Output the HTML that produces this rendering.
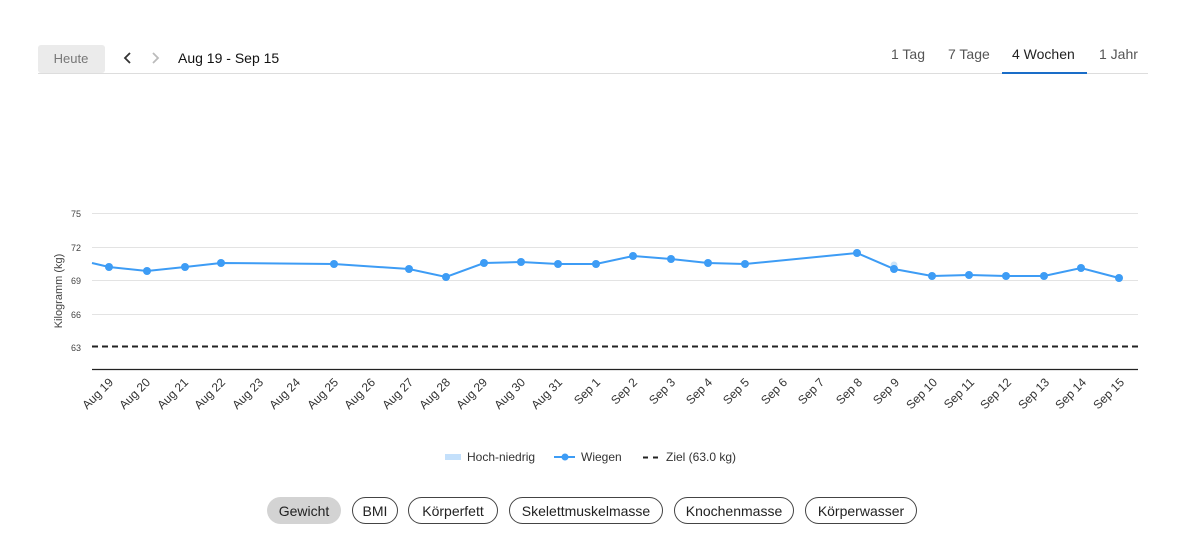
<!DOCTYPE html>
<html><head><meta charset="utf-8"><style>
body{margin:0;background:#fff;width:1193px;height:545px;overflow:hidden;font-family:"Liberation Sans",sans-serif}
</style></head><body>
<svg width="1193" height="545" xmlns="http://www.w3.org/2000/svg" font-family="Liberation Sans, sans-serif">
<rect x="38" y="45" width="67" height="28" rx="3" fill="#ebebeb"/>
<text x="71" y="63" font-size="13" fill="#777" text-anchor="middle">Heute</text>
<path d="M130 53 L125 58 L130 63" stroke="#333" stroke-width="1.8" fill="none"/>
<path d="M153 53 L158 58 L153 63" stroke="#bbb" stroke-width="1.8" fill="none"/>
<text x="178" y="63" font-size="14" fill="#111">Aug 19 - Sep 15</text>
<g font-size="14" fill="#555">
<text x="891" y="59">1 Tag</text><text x="948" y="59">7 Tage</text>
<text x="1012" y="59" fill="#222">4 Wochen</text><text x="1099" y="59">1 Jahr</text></g>
<line x1="38" y1="73.5" x2="1148" y2="73.5" stroke="#ddd"/>
<rect x="1002" y="72" width="85" height="2" fill="#1a6dc8"/>
<g stroke="#e3e3e3"><line x1="92" y1="213.5" x2="1138" y2="213.5"/><line x1="92" y1="247.5" x2="1138" y2="247.5"/><line x1="92" y1="280.5" x2="1138" y2="280.5"/><line x1="92" y1="314.5" x2="1138" y2="314.5"/></g>
<g font-size="9" fill="#444" text-anchor="end"><text x="81" y="217">75</text><text x="81" y="251">72</text><text x="81" y="284">69</text><text x="81" y="318">66</text><text x="81" y="351">63</text></g>
<text transform="translate(62,291) rotate(-90)" font-size="11" fill="#444" text-anchor="middle">Kilogramm (kg)</text>
<line x1="92" y1="346.5" x2="1138" y2="346.5" stroke="#222" stroke-width="2" stroke-dasharray="6,4"/>
<line x1="92" y1="369.5" x2="1138" y2="369.5" stroke="#222" stroke-width="1.2"/>
<circle cx="894" cy="265" r="3.5" fill="#cde4f8"/>
<polyline fill="none" stroke="#3d9cf5" stroke-width="2" points="92,263 109,267 147,271 185,267 221,263 334,264 409,269 446,277 484,263 521,262 558,264 596,264 633,256 671,259 708,263 745,264 857,253 894,269 932,276 969,275 1006,276 1044,276 1081,268 1119,278"/>
<g fill="#3d9cf5"><circle cx="109" cy="267" r="4"/><circle cx="147" cy="271" r="4"/><circle cx="185" cy="267" r="4"/><circle cx="221" cy="263" r="4"/><circle cx="334" cy="264" r="4"/><circle cx="409" cy="269" r="4"/><circle cx="446" cy="277" r="4"/><circle cx="484" cy="263" r="4"/><circle cx="521" cy="262" r="4"/><circle cx="558" cy="264" r="4"/><circle cx="596" cy="264" r="4"/><circle cx="633" cy="256" r="4"/><circle cx="671" cy="259" r="4"/><circle cx="708" cy="263" r="4"/><circle cx="745" cy="264" r="4"/><circle cx="857" cy="253" r="4"/><circle cx="894" cy="269" r="4"/><circle cx="932" cy="276" r="4"/><circle cx="969" cy="275" r="4"/><circle cx="1006" cy="276" r="4"/><circle cx="1044" cy="276" r="4"/><circle cx="1081" cy="268" r="4"/><circle cx="1119" cy="278" r="4"/></g>
<g font-size="12" fill="#333" text-anchor="end">
<text transform="translate(114,383) rotate(-45)">Aug 19</text>
<text transform="translate(151,383) rotate(-45)">Aug 20</text>
<text transform="translate(189,383) rotate(-45)">Aug 21</text>
<text transform="translate(226,383) rotate(-45)">Aug 22</text>
<text transform="translate(264,383) rotate(-45)">Aug 23</text>
<text transform="translate(301,383) rotate(-45)">Aug 24</text>
<text transform="translate(339,383) rotate(-45)">Aug 25</text>
<text transform="translate(376,383) rotate(-45)">Aug 26</text>
<text transform="translate(414,383) rotate(-45)">Aug 27</text>
<text transform="translate(451,383) rotate(-45)">Aug 28</text>
<text transform="translate(488,383) rotate(-45)">Aug 29</text>
<text transform="translate(526,383) rotate(-45)">Aug 30</text>
<text transform="translate(563,383) rotate(-45)">Aug 31</text>
<text transform="translate(601,383) rotate(-45)">Sep 1</text>
<text transform="translate(638,383) rotate(-45)">Sep 2</text>
<text transform="translate(676,383) rotate(-45)">Sep 3</text>
<text transform="translate(713,383) rotate(-45)">Sep 4</text>
<text transform="translate(750,383) rotate(-45)">Sep 5</text>
<text transform="translate(788,383) rotate(-45)">Sep 6</text>
<text transform="translate(825,383) rotate(-45)">Sep 7</text>
<text transform="translate(863,383) rotate(-45)">Sep 8</text>
<text transform="translate(900,383) rotate(-45)">Sep 9</text>
<text transform="translate(938,383) rotate(-45)">Sep 10</text>
<text transform="translate(975,383) rotate(-45)">Sep 11</text>
<text transform="translate(1012,383) rotate(-45)">Sep 12</text>
<text transform="translate(1050,383) rotate(-45)">Sep 13</text>
<text transform="translate(1087,383) rotate(-45)">Sep 14</text>
<text transform="translate(1125,383) rotate(-45)">Sep 15</text>
</g>
<rect x="445" y="454" width="16" height="6" fill="#c4e0fb"/>
<text x="467" y="461" font-size="12" fill="#333">Hoch-niedrig</text>
<line x1="554" y1="457" x2="575" y2="457" stroke="#3d9cf5" stroke-width="2"/><circle cx="565" cy="457" r="3.5" fill="#3d9cf5"/>
<text x="581" y="461" font-size="12" fill="#333">Wiegen</text>
<line x1="643" y1="457.5" x2="662" y2="457.5" stroke="#222" stroke-width="2" stroke-dasharray="5,5"/>
<text x="666" y="461" font-size="12" fill="#333">Ziel (63.0 kg)</text>
<g font-size="14" fill="#222" text-anchor="middle">
<rect x="267" y="497" width="74" height="27" rx="13.5" fill="#d3d3d3"/><text x="304" y="516">Gewicht</text>
<rect x="352.5" y="497.5" width="45" height="26" rx="13" fill="none" stroke="#444"/><text x="375" y="516">BMI</text>
<rect x="408.5" y="497.5" width="89" height="26" rx="13" fill="none" stroke="#444"/><text x="453" y="516">Körperfett</text>
<rect x="509.5" y="497.5" width="153" height="26" rx="13" fill="none" stroke="#444"/><text x="586" y="516">Skelettmuskelmasse</text>
<rect x="674.5" y="497.5" width="119" height="26" rx="13" fill="none" stroke="#444"/><text x="734" y="516">Knochenmasse</text>
<rect x="805.5" y="497.5" width="111" height="26" rx="13" fill="none" stroke="#444"/><text x="861" y="516">Körperwasser</text>
</g>
</svg>
</body></html>
